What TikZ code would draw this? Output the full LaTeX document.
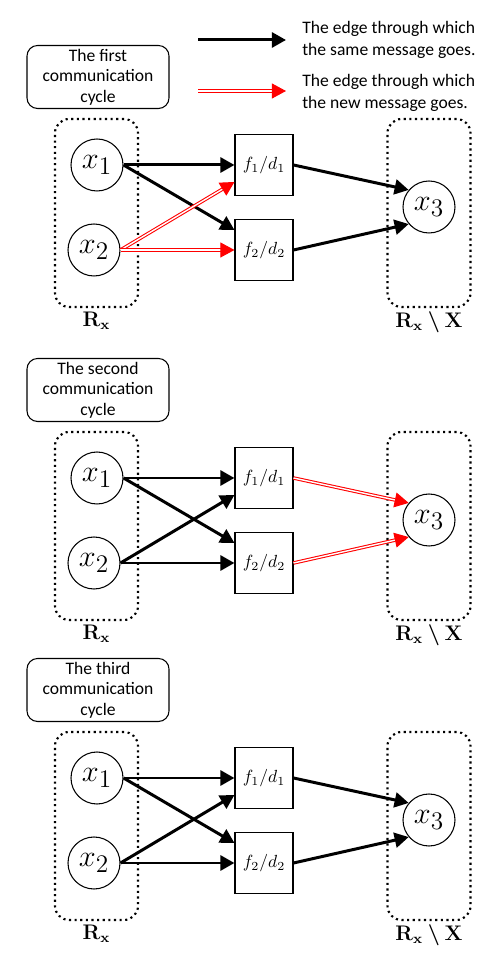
\documentclass[tikz,border=0pt]{standalone}
\usepackage{amsmath,bm}
\usepackage[no-math]{fontspec}
\setmainfont{Carlito}
\usetikzlibrary{arrows.meta, positioning}
\tikzstyle{xnode} = [circle, draw, line width=0.6pt, minimum size=1.04cm, inner sep=0pt, font=\fontsize{19}{20}\selectfont]
\tikzstyle{fnode} = [rectangle, draw, line width=0.6pt, minimum width=1.16cm, minimum height=1.22cm, inner sep=0pt]
\tikzstyle{setbox} = [rectangle, draw, dotted, line width=1.2pt, rounded corners=8pt, minimum width=1.66cm, minimum height=3.76cm]
\tikzstyle{cyclebox} = [rectangle, draw, line width=0.6pt, rounded corners=6pt, minimum width=2.84cm, minimum height=1.26cm, inner sep=0pt, align=center, font=\fontsize{10}{11.7}\selectfont]
\tikzstyle{legend} = [align=left, inner sep=0pt, font=\fontsize{10}{12.5}\selectfont]
\tikzstyle{setlabel} = [inner sep=2pt, font=\large]
\tikzstyle{sameedge} = [draw, line width=1.7pt, -{Triangle[length=8pt, width=8.5pt]}]
\tikzstyle{newedge} = [draw=red, double=white, double distance=0.8pt, line width=0.6pt, -{Triangle[length=8pt, width=8.5pt]}]

\begin{document}
\begin{tikzpicture}
	\useasboundingbox (0,0) rectangle (9.98,19.22);

	% legend
	\coordinate (samefrom) at (3.96, 18.42);
	\coordinate (sameto) at (5.72, 18.42);
	\coordinate (newfrom) at (3.96, 17.40);
	\coordinate (newto) at (5.72, 17.40);
	\node [legend, anchor=west] (samelabel) at (6.04, 18.42) {The edge through which\\the same message goes.};
	\node [legend, anchor=west] (newlabel) at (6.04, 17.36) {The edge through which\\the new message goes.};
	\path [sameedge] (samefrom) -- (sameto);
	\path [newedge] (newfrom) -- (newto);

	% one panel per communication cycle
	\foreach \p/\yy/\nth/\xtwoedge/\outedge in {a/15.92/first/newedge/sameedge, b/9.66/second/sameedge/newedge, c/3.66/third/sameedge/sameedge} {
		\node [cyclebox] (title\p) at (1.96, \yy+1.76) {The \nth\\communication\\cycle};
		\node [setbox] (left\p) at (1.93, \yy-0.96) {};
		\node [setbox] (right\p) at (8.58, \yy-0.96) {};
		\node [setlabel, below=0pt of left\p] (rx\p) {$\mathbf{R_x}$};
		\node [setlabel, below=0pt of right\p] (rxx\p) {$\mathbf{R_x}\boldsymbol{\setminus}\mathbf{X}$};
		\node [xnode] (x1\p) at (1.94, \yy) {$x_1$};
		\node [xnode] (x2\p) at (1.88, \yy-1.70) {$x_2$};
		\node [xnode] (x3\p) at (8.58, \yy-0.84) {$x_3$};
		\node [fnode] (f1\p) at (5.28, \yy) {$f_1/d_1$};
		\node [fnode] (f2\p) at (5.28, \yy-1.70) {$f_2/d_2$};

		\path [sameedge] (x1\p.east) -- (f1\p.west);
		\path [sameedge] (x1\p.east) -- ([yshift=0.4cm]f2\p.west);
		\path [\xtwoedge] (x2\p.east) -- ([yshift=-0.34cm]f1\p.west);
		\path [\xtwoedge] (x2\p.east) -- (f2\p.west);
		\path [\outedge] (f1\p.east) -- (x3\p.140);
		\path [\outedge] (f2\p.east) -- (x3\p.220);
	}
\end{tikzpicture}
\end{document}
